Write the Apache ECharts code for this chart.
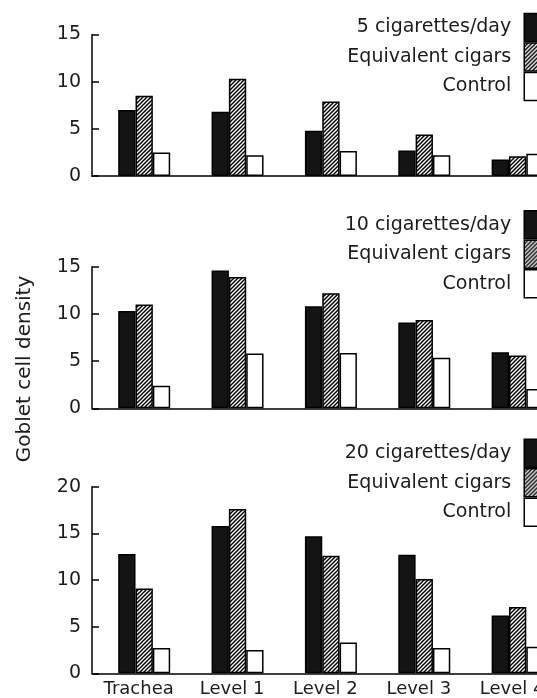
<!DOCTYPE html>
<html><head><meta charset="utf-8">
<script src="https://cdn.jsdelivr.net/npm/echarts@6/dist/echarts.min.js"></script>
<style>html,body{margin:0;padding:0;background:#fff}#c{width:537px;height:698px}</style>
</head><body><div id="c"></div>
<script>
const categories = ['Trachea', 'Level 1', 'Level 2', 'Level 3', 'Level 4'];
const seriesNames1 = ['5 cigarettes/day', 'Equivalent cigars', 'Control'];
const seriesNames2 = ['10 cigarettes/day', 'Equivalent cigars', 'Control'];
const seriesNames3 = ['20 cigarettes/day', 'Equivalent cigars', 'Control'];
const cig5 = [7.0, 6.8, 4.8, 2.7, 1.75];
const cigar5 = [8.5, 10.3, 7.9, 4.4, 2.1];
const control5 = [2.5, 2.2, 2.65, 2.2, 2.35];
const cig10 = [10.3, 14.6, 10.8, 9.1, 5.95];
const cigar10 = [11.0, 13.9, 12.2, 9.35, 5.6];
const control10 = [2.4, 5.8, 5.85, 5.35, 2.05];
const cig20 = [12.8, 15.8, 14.7, 12.7, 6.2];
const cigar20 = [9.1, 17.6, 12.6, 10.1, 7.1];
const control20 = [2.7, 2.5, 3.3, 2.7, 2.85];
const yMax = [15, 15, 20];
const yInterval = 5;
const yTitle = 'Goblet cell density';

const FONT = 'DejaVu Sans';
const INK = '#1c1c1c';

function hatchCanvas() {
  const s = 4;
  const c = document.createElement('canvas');
  c.width = s; c.height = s;
  const g = c.getContext('2d');
  g.fillStyle = '#fff'; g.fillRect(0, 0, s, s);
  g.strokeStyle = '#000'; g.lineWidth = 1.5;
  g.beginPath();
  g.moveTo(-1, s + 1); g.lineTo(s + 1, -1);
  g.moveTo(-1, 1); g.lineTo(1, -1);
  g.moveTo(s - 1, s + 1); g.lineTo(s + 1, s - 1);
  g.stroke();
  return c;
}
const hatch = { image: hatchCanvas(), repeat: 'repeat' };
const fills = ['#141414', hatch, '#ffffff'];

const panels = [
  { names: seriesNames1, data: [cig5, cigar5, control5], top: 34.5, height: 141.5, legendTop: 12.7 },
  { names: seriesNames2, data: [cig10, cigar10, control10], top: 266.7, height: 141.6, legendTop: 210 },
  { names: seriesNames3, data: [cig20, cigar20, control20], top: 486.7, height: 186.6, legendTop: 438.5 }
];

const grid = [], xAxis = [], yAxis = [], series = [], legend = [];
panels.forEach((p, i) => {
  grid.push({ left: 92, top: p.top, height: p.height, right: -74, outerBoundsMode: 'none', containLabel: false });
  xAxis.push({
    type: 'value', gridIndex: i, min: -0.559, max: 5,
    axisLine: { show: true, onZero: false, lineStyle: { color: '#000', width: 1.5 } },
    axisTick: { show: false }, splitLine: { show: false },
    axisLabel: i === 2 ? {
      show: true, customValues: [0, 1, 2, 3, 4],
      formatter: v => categories[Math.round(v)] || '',
      fontSize: 18, fontFamily: FONT, color: INK, margin: 7, padding: [0, 11, 0, 0]
    } : { show: false }
  });
  yAxis.push({
    type: 'value', gridIndex: i, min: 0, max: yMax[i], interval: yInterval,
    axisLine: { show: true, onZero: false, lineStyle: { color: '#000', width: 1.5 } },
    axisTick: { show: true, inside: true, length: 7, lineStyle: { color: '#000', width: 1.5 } },
    splitLine: { show: false },
    axisLabel: { fontSize: 19, fontFamily: FONT, color: INK, margin: 11 }
  });
  p.names.forEach((n, k) => {
    series.push({
      type: 'bar', name: n, xAxisIndex: i, yAxisIndex: i,
      barWidth: 17.33, barGap: '0%',
      data: p.data[k].map((v, j) => [j, v]),
      itemStyle: { color: fills[k], borderColor: '#000', borderWidth: 1.5 },
      silent: true
    });
  });
  legend.push({
    orient: 'vertical', align: 'right', right: -12, top: p.legendTop,
    padding: 0, itemWidth: 24, itemHeight: 28, itemGap: 0, icon: 'rect',
    selectedMode: false,
    data: p.names.map((n, k) => ({ name: n, itemStyle: { color: fills[k], borderColor: '#000', borderWidth: 1.5 } })),
    textStyle: { fontSize: 19, fontFamily: FONT, color: INK, padding: [0, 8, 0, 0] }
  });
});

const chart = echarts.init(document.getElementById('c'), null, { renderer: 'canvas' });
chart.setOption({
  animation: false,
  backgroundColor: '#fff',
  grid, xAxis, yAxis, series, legend,
  graphic: [{
    type: 'text', x: 25, y: 369, rotation: Math.PI / 2,
    style: { text: yTitle, fontSize: 20, fontFamily: FONT, fill: INK, align: 'center', verticalAlign: 'middle' }
  }]
});
</script></body></html>
